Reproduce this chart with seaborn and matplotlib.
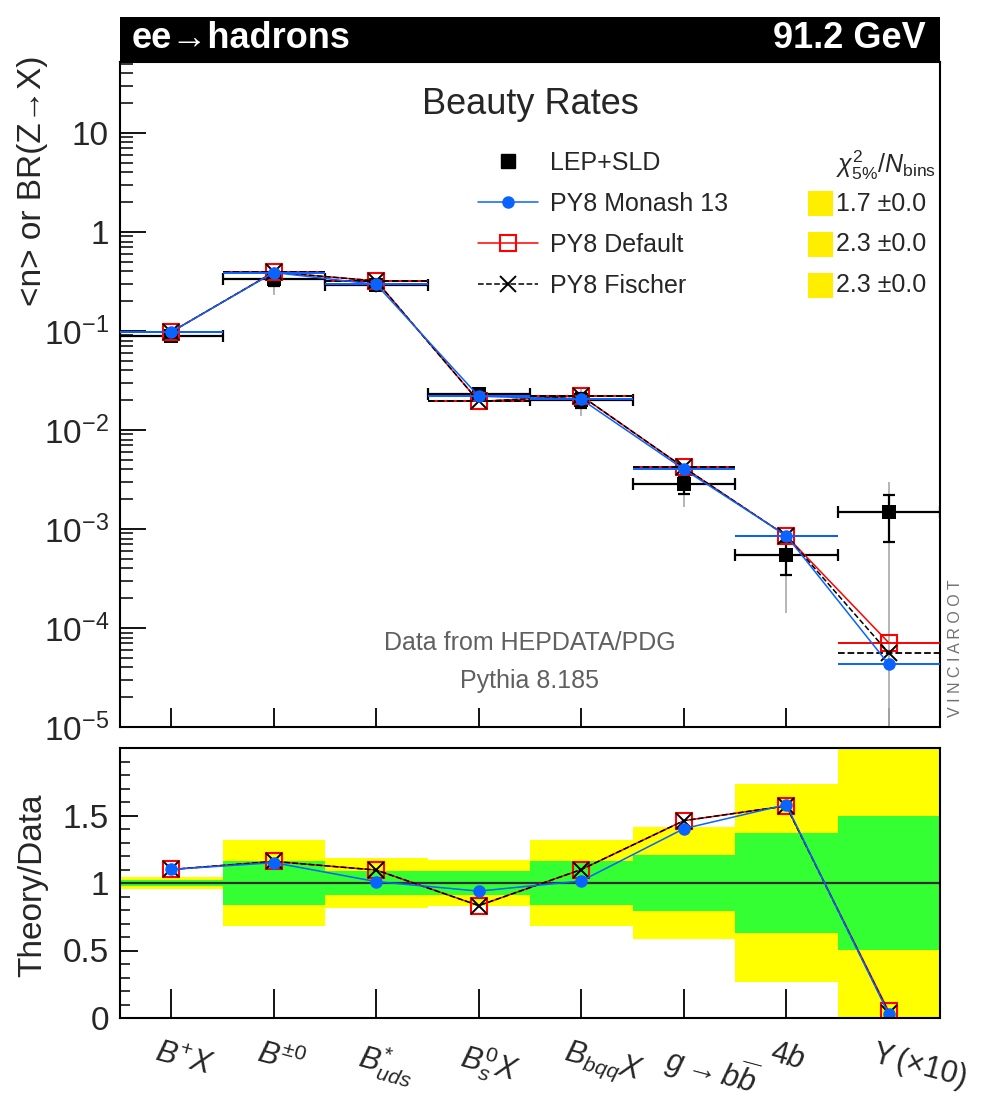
import numpy as np
import pandas as pd
import matplotlib
matplotlib.use("Agg")
import matplotlib.pyplot as plt
import seaborn as sns
from matplotlib.patches import Rectangle
from matplotlib.lines import Line2D
from matplotlib.transforms import ScaledTranslation
from matplotlib.ticker import FuncFormatter, MultipleLocator, LogLocator, NullFormatter

# ---------------- data ----------------
categories = [r"$B^{+}X$", r"$B^{\pm0}$", r"$B^{*}_{uds}$", r"$B^{0}_{s}X$",
              r"$B_{bqq}X$", r"$g{\rightarrow}b\overline{b}$", r"$4b$",
              r"$\Upsilon\,(\times10)$"]
data_vals = [0.0887, 0.338, 0.292, 0.0233, 0.0201, 0.00286, 0.000543, 0.00147]
data_stat = [0.0018, 0.054, 0.027, 0.0020, 0.0033, 0.00059, 0.00020, 0.00073]
data_tot = [0.0042, 0.107, 0.053, 0.0040, 0.0064, 0.00118, 0.00040, 0.00150]
monash = [0.0976, 0.389, 0.295, 0.0219, 0.0204, 0.00401, 0.000858, 0.000043]
default = [0.0976, 0.392, 0.320, 0.0194, 0.0221, 0.00418, 0.000853, 0.000071]
fischer = [0.0976, 0.392, 0.320, 0.0194, 0.0221, 0.00418, 0.000853, 0.000056]
legend_labels = ["LEP+SLD", "PY8 Monash 13", "PY8 Default", "PY8 Fischer"]
chi2_vals = [1.7, 2.3, 2.3]
chi2_errs = [0.0, 0.0, 0.0]

# ---------------- style ----------------
sns.set_theme(style="ticks")
plt.rcParams["font.family"] = ["Liberation Sans", "DejaVu Sans"]
plt.rcParams["mathtext.fontset"] = "custom"
plt.rcParams["mathtext.rm"] = "Liberation Sans"
plt.rcParams["mathtext.it"] = "Liberation Sans:italic"
plt.rcParams["mathtext.bf"] = "Liberation Sans:bold"
plt.rcParams["axes.linewidth"] = 1.5

BLUE = "#0a62ff"
RED = "#ff0000"
W, H = 992, 1096


def fx(px):
    return px / W


def fy(py):
    return 1 - py / H


fig = plt.figure(figsize=(W / 100, H / 100), dpi=100)
ax = fig.add_axes([fx(120), fy(727), fx(940) - fx(120), fy(62) - fy(727)])
axr = fig.add_axes([fx(120), fy(1018), fx(940) - fx(120), fy(748) - fy(1018)])

x = np.arange(len(categories)) + 0.5
df = pd.DataFrame({"x": x, "data": data_vals, "monash": monash,
                   "default": default, "fischer": fischer})

red_kw = dict(color=RED, linewidth=1.1, marker="s", markersize=11,
              markerfacecolor="none", markeredgecolor=RED, markeredgewidth=1.5)
fis_kw = dict(color="black", linewidth=1.1, linestyle="--", marker="x",
              markersize=11, markeredgewidth=1.4, markeredgecolor="black")
mon_kw = dict(color=BLUE, linewidth=1.1, marker="o", markersize=9,
              markeredgewidth=0, markeredgecolor=BLUE, markerfacecolor=BLUE)

# ---------------- main panel ----------------
ax.set_yscale("log")
ax.set_xlim(0, len(categories))
ax.set_ylim(1e-5, 52)

ax.errorbar(x, data_vals, yerr=data_tot, fmt="none", ecolor="#b0b0b0",
            elinewidth=1.3, zorder=2)
ax.errorbar(x, data_vals, xerr=0.5, yerr=data_stat, fmt="none", ecolor="black",
            elinewidth=1.6, capsize=4, capthick=1.6, zorder=3)
sns.scatterplot(data=df, x="x", y="data", marker="s", color="black", s=95,
                edgecolor="black", linewidth=0, ax=ax, zorder=4, legend=False)

ax.hlines(default, x - 0.5, x + 0.5, colors=RED, linewidth=1.4, zorder=5)
sns.lineplot(data=df, x="x", y="default", ax=ax, zorder=5, legend=False, **red_kw)
ax.hlines(fischer, x - 0.5, x + 0.5, colors="black", linestyles="--",
          linewidth=1.3, zorder=6)
sns.lineplot(data=df, x="x", y="fischer", ax=ax, zorder=6, legend=False, **fis_kw)
ax.hlines(monash, x - 0.5, x + 0.5, colors=BLUE, linewidth=1.4, zorder=7)
sns.lineplot(data=df, x="x", y="monash", ax=ax, zorder=7, legend=False, **mon_kw)

ax.set_xticks(x)
ax.tick_params(axis="x", which="both", direction="in", length=14, width=1.3,
               labelbottom=False, bottom=True, top=False, color="black")
ax.yaxis.set_major_locator(LogLocator(base=10, numticks=20))
ax.yaxis.set_minor_locator(LogLocator(base=10, subs=np.arange(2, 10), numticks=20))
ax.yaxis.set_minor_formatter(NullFormatter())


def logfmt(v, pos):
    if abs(v - 10) < 1e-9:
        return "10"
    if abs(v - 1) < 1e-9:
        return "1"
    e = int(round(np.log10(v)))
    return r"$10^{%d}$" % e


ax.yaxis.set_major_formatter(FuncFormatter(logfmt))
ax.tick_params(axis="y", which="major", direction="in", length=19, width=1.3,
               labelsize=24, pad=8, right=False, color="black")
ax.tick_params(axis="y", which="minor", direction="in", length=9.5, width=1.1,
               right=False, color="black")
ax.set_xlabel("")
ax.set_ylabel("")
for s in ax.spines.values():
    s.set_color("black")

# legend
handles = [
    Line2D([], [], linestyle="none", marker="s", color="black", markersize=10),
    Line2D([], [], **mon_kw),
    Line2D([], [], **red_kw),
    Line2D([], [], **fis_kw),
]
ax.legend(handles, legend_labels, loc="upper left",
          bbox_to_anchor=((478 - 120) / 820, 1 - (151 - 62) / 665),
          frameon=False, fontsize=18, borderpad=0, borderaxespad=0,
          handlelength=2.4, handletextpad=0.5, labelspacing=0.68)

# chi2 column
row0, drow = 163, 40.7
fig.text(fx(936), fy(row0 + 2), r"$\chi^{2}_{5\%}/N_{\mathrm{bins}}$", ha="right",
         va="center", fontsize=18)
for i, (c, e) in enumerate(zip(chi2_vals, chi2_errs)):
    yc = row0 + drow * (i + 1)
    fig.patches.append(Rectangle((fx(808), fy(yc + 12.5)), fx(833) - fx(808),
                                 25 / H, transform=fig.transFigure,
                                 facecolor="#ffee00", edgecolor="none"))
    fig.text(fx(836), fy(yc), "%.1f \u00b1%.1f" % (c, e), ha="left", va="center",
             fontsize=18)

# header bar
fig.patches.append(Rectangle((fx(120), fy(62)), fx(940) - fx(120), 45 / H,
                             transform=fig.transFigure, facecolor="black",
                             edgecolor="none", zorder=10))
fig.text(fx(132), fy(39), "ee\u2192hadrons", color="white", fontweight="bold",
         fontsize=26, ha="left", va="center", zorder=11)
fig.text(fx(926), fy(39), "91.2 GeV", color="white", fontweight="bold",
         fontsize=26, ha="right", va="center", zorder=11)

fig.text(fx(530), fy(104), "Beauty Rates", fontsize=26, ha="center", va="center")
fig.text(fx(530), fy(643), "Data from HEPDATA/PDG", fontsize=18, color="#606060",
         ha="center", va="center")
fig.text(fx(530), fy(681), "Pythia 8.185", fontsize=18, color="#606060",
         ha="center", va="center")
fig.text(fx(955), fy(648), "V I N C I A R O O T", fontsize=11.5, color="#707070",
         rotation=90, ha="center", va="center")

fig.text(fx(33), fy(56), "<n> or BR(Z\u2192X)", fontsize=24, rotation=90,
         ha="center", va="top")

# ---------------- ratio panel ----------------
rdf = pd.DataFrame({
    "x": x,
    "monash": np.array(monash) / np.array(data_vals),
    "default": np.array(default) / np.array(data_vals),
    "fischer": np.array(fischer) / np.array(data_vals),
})
tot_rel = np.array(data_tot) / np.array(data_vals)
stat_rel = np.array(data_stat) / np.array(data_vals)
axr.bar(x, 2 * tot_rel, bottom=1 - tot_rel, width=1.0, color="#ffff00",
        linewidth=0, zorder=1)
axr.bar(x, 2 * stat_rel, bottom=1 - stat_rel, width=1.0, color="#33ff33",
        linewidth=0, zorder=2)
axr.axhline(1, color="#303030", linewidth=1.6, zorder=3)

sns.lineplot(data=rdf, x="x", y="default", ax=axr, zorder=5, legend=False, **red_kw)
sns.lineplot(data=rdf, x="x", y="fischer", ax=axr, zorder=6, legend=False, **fis_kw)
sns.lineplot(data=rdf, x="x", y="monash", ax=axr, zorder=7, legend=False, **mon_kw)

axr.set_xlim(0, len(categories))
axr.set_ylim(0, 2)
axr.set_yticks([0, 0.5, 1, 1.5])
axr.set_yticklabels(["0", "0.5", "1", "1.5"])
axr.yaxis.set_minor_locator(MultipleLocator(0.1))
axr.tick_params(axis="y", which="major", direction="in", length=13, width=1.3,
                labelsize=24, pad=8, right=False, color="black")
axr.tick_params(axis="y", which="minor", direction="in", length=7, width=1.1,
                right=False, color="black")
axr.set_xticks(x)
axr.set_xticklabels(categories)
axr.tick_params(axis="x", which="both", direction="in", length=21, width=1.3,
                labelsize=22, pad=14, top=False, color="black")
for lab in axr.get_xticklabels():
    lab.set_rotation(-15)
    lab.set_rotation_mode("anchor")
    lab.set_ha("left")
    lab.set_va("top")
    lab.set_transform(lab.get_transform()
                      + ScaledTranslation(-12 / 100, 0, fig.dpi_scale_trans))
axr.set_xlabel("")
axr.set_ylabel("")
for s in axr.spines.values():
    s.set_color("black")
    s.set_zorder(10)

fig.text(fx(33), fy(885), "Theory/Data", fontsize=24, rotation=90,
         ha="center", va="center")

fig.savefig("out.png", dpi=100)
